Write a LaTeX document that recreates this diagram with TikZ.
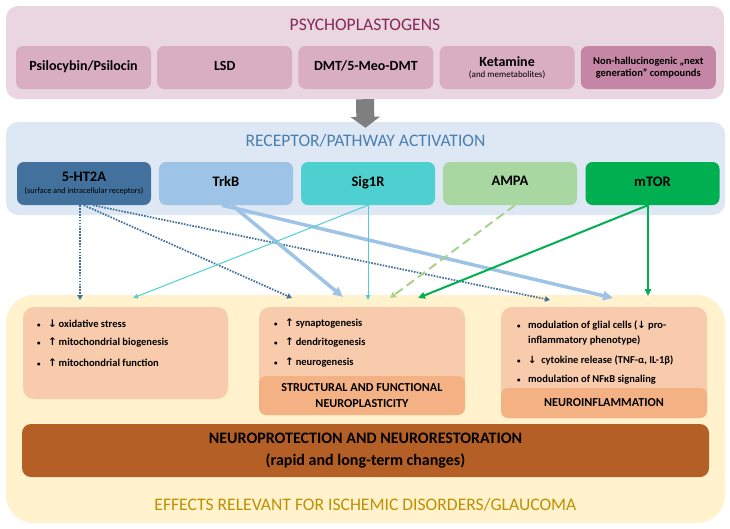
\documentclass[tikz,border=0pt]{standalone}
\usepackage{fontspec}
\setmainfont{Carlito}
\newfontfamily\symf{DejaVu Sans}
\usetikzlibrary{arrows.meta}
\definecolor{topfill}{HTML}{EAD6E1}
\definecolor{drugfill}{HTML}{D9ADC2}
\definecolor{drugdark}{HTML}{C585A5}
\definecolor{magtitle}{HTML}{86275A}
\definecolor{bluefill}{HTML}{DDE8F4}
\definecolor{bluetitle}{HTML}{4A7EB0}
\definecolor{htc}{HTML}{41719C}
\definecolor{trkc}{HTML}{9DC3E6}
\definecolor{sigc}{HTML}{4ECFD0}
\definecolor{ampac}{HTML}{A9D7A2}
\definecolor{ampaline}{HTML}{A9D18E}
\definecolor{mtorc}{HTML}{00B050}
\definecolor{yelfill}{HTML}{FFF2CC}
\definecolor{goldt}{HTML}{BF9000}
\definecolor{salmon}{HTML}{F8CBAD}
\definecolor{subfill}{HTML}{F4B183}
\definecolor{brownf}{HTML}{B45F26}
\definecolor{grayarr}{HTML}{7F7F7F}
\newcommand\fs[1]{\fontsize{#1}{#1}\selectfont}
\newcommand\bul{\makebox[11pt][l]{\fs{7}•}}
\newcommand\uparr{{\symf\fs{10.5}↑}}
\newcommand\dnarr{{\symf\fs{10.5}↓}}
\newcommand\dnbold{{\symf\bfseries\fs{10}↓}}
\begin{document}
\begin{tikzpicture}[x=1pt,y=-1pt,
  panel/.style={rounded corners=12pt, inner sep=0pt},
  rbox/.style={rounded corners=7pt, inner sep=0pt, align=center, font=\bfseries\fs{14},
     minimum height=43pt},
  drug/.style={rbox, fill=drugfill, minimum width=135pt},
  rec/.style={rbox, minimum width=134pt, font=\bfseries\fs{14.5}},
  effbox/.style={rounded corners=11pt, inner sep=0pt, fill=salmon, minimum width=206pt},
  subbox/.style={rounded corners=7pt, inner sep=0pt, fill=subfill, minimum width=206pt,
     align=center, font=\bfseries\fs{12.2}},
  titletext/.style={inner sep=0pt, font=\fs{17.6}},
  itemtext/.style={anchor=west, inner sep=0pt, font=\bfseries\fs{10.5}},
  dotarr/.style={draw=htc, line width=1.8pt, dash pattern=on 1.6pt off 1.3pt,
     -{Triangle[length=5pt,width=5.5pt]}},
  trkarr/.style={draw=trkc, line width=3.5pt, -{Triangle[length=10pt,width=9pt]}},
  sigarr/.style={draw=sigc, line width=1pt, -{Triangle[length=5pt,width=4.5pt]}},
  ampaarr/.style={draw=ampaline, line width=2pt, dash pattern=on 9pt off 5pt,
     -{Triangle[length=6pt,width=6pt]}},
  mtorarr/.style={draw=mtorc, line width=2pt, -{Triangle[length=7pt,width=6.5pt]}}
]
\useasboundingbox (0,0) rectangle (730,528);

% ---------- top panel ----------
\node[panel, fill=topfill, minimum width=718pt, minimum height=93pt] (top) at (365,52.5) {};
\node[titletext, text=magtitle] (toptitle) at (365,25) {PSYCHOPLASTOGENS};
\node[drug] (psi) at (83.5,67.5) {\raisebox{3pt}{Psilocybin/Psilocin}};
\node[drug] (lsd) at (224.7,67.5) {\raisebox{3pt}{LSD}};
\node[drug] (dmt) at (365.9,67.5) {\raisebox{3pt}{DMT/5-Meo-DMT}};
\node[drug] (ket) at (507.1,67.5) {Ketamine\\[-3pt]{\mdseries\fs{9}(and memetabolites)}};
\node[drug, fill=drugdark, font=\bfseries\fs{10.5}] (nonh) at (648.3,67.5)
   {Non-hallucinogenic „next\\[1pt]generation” compounds};

% ---------- receptor panel ----------
\node[panel, fill=bluefill, minimum width=719pt, minimum height=93pt] (blue) at (365.5,168.5) {};
\node[titletext, text=bluetitle] (bluetitle) at (365.5,141) {RECEPTOR/PATHWAY ACTIVATION};
\node[rec, fill=htc] (ht) at (84,183.5) {5-HT2A\\[-2pt]{\mdseries\fs{8.2}(surface and intracellular receptors)}};
\node[rec, fill=trkc] (trk) at (226,183.5) {\raisebox{4.5pt}{TrkB}};
\node[rec, fill=sigc] (sig) at (368,183.5) {\raisebox{4.5pt}{Sig1R}};
\node[rec, fill=ampac] (ampa) at (510,183.5) {\raisebox{4.5pt}{AMPA}};
\node[rec, fill=mtorc] (mtor) at (652.5,183.5) {\raisebox{4.5pt}{mTOR}};

% gray arrow
\draw[grayarr, line width=18pt, -{Triangle[length=11pt,width=29pt]}]
  (top.south) -- ([yshift=-6pt]blue.north);

% ---------- effects panel ----------
\node[panel, rounded corners=28pt, fill=yelfill, minimum width=719pt, minimum height=228pt] (yel) at (365.5,409) {};
\node[effbox, minimum width=205pt, minimum height=92pt] (mito) at (125.5,353) {};
\node[effbox, minimum height=108pt] (plast) at (362,361) {};
\node[subbox, minimum height=39pt] (plastsub) at (362,395.5) {STRUCTURAL AND FUNCTIONAL\\[3pt]NEUROPLASTICITY};
\node[effbox, minimum height=111pt] (infl) at (604,362.5) {};
\node[subbox, minimum height=30pt] (inflsub) at (604,403) {NEUROINFLAMMATION};
\node[rounded corners=9pt, inner sep=0pt, fill=brownf, minimum width=687pt, minimum height=53pt,
   align=center, font=\bfseries\fs{16}] (prot) at (365.5,450.5)
   {NEUROPROTECTION AND NEURORESTORATION\\[6pt](rapid and long-term changes)};
\node[titletext, text=goldt] (yeltitle) at (365.5,505) {EFFECTS RELEVANT FOR ISCHEMIC DISORDERS/GLAUCOMA};

% items
\node[itemtext] (m1) at (37,324) {\bul\dnarr\,oxidative stress};
\node[itemtext] (m2) at (37,343) {\bul\uparr\,mitochondrial biogenesis};
\node[itemtext] (m3) at (37,362.5) {\bul\uparr\,mitochondrial function};
\node[itemtext] (p1) at (274,324) {\bul\uparr\,synaptogenesis};
\node[itemtext] (p2) at (274,343) {\bul\uparr\,dendritogenesis};
\node[itemtext] (p3) at (274,362.5) {\bul\uparr\,neurogenesis};
\node[itemtext] (i1) at (517,325) {\bul modulation of glial cells (\dnbold\ pro-};
\node[itemtext] (i1b) at (528,340.5) {inflammatory phenotype)};
\node[itemtext] (i2) at (517,360) {\bul\dnbold\ \ cytokine release (TNF-α, IL-1β)};
\node[itemtext] (i3) at (517,380) {\bul modulation of NFκB signaling};

% ---------- connectors ----------
\coordinate (eA) at (80,300);
\coordinate (eB) at (292,298);
\coordinate (eC) at (550,300);
\coordinate (eD) at (343,297);
\coordinate (eE) at (613,298);
\coordinate (eF) at (368,300);
\coordinate (eG) at (133,298);
\coordinate (eH) at (390,298);
\coordinate (eI) at (648,296);
\coordinate (eJ) at (418,298);

\draw[dotarr] ([xshift=-4pt]ht.south) -- (eA);
\draw[dotarr] ([xshift=0pt]ht.south) -- (eB);
\draw[dotarr] ([xshift=9pt]ht.south) -- (eC);
\draw[trkarr] ([xshift=6pt]trk.south) -- (eD);
\draw[trkarr] ([xshift=-4pt]trk.south) -- (eE);
\draw[sigarr] (sig.south) -- (eF);
\draw[sigarr] (sig.south) -- (eG);
\draw[ampaarr] ([xshift=5pt]ampa.south) -- (eH);
\draw[mtorarr, line width=1.5pt] ([xshift=-4.5pt]mtor.south) -- (eI);
\draw[mtorarr] ([xshift=-4.5pt]mtor.south) -- (eJ);
\end{tikzpicture}
\end{document}
